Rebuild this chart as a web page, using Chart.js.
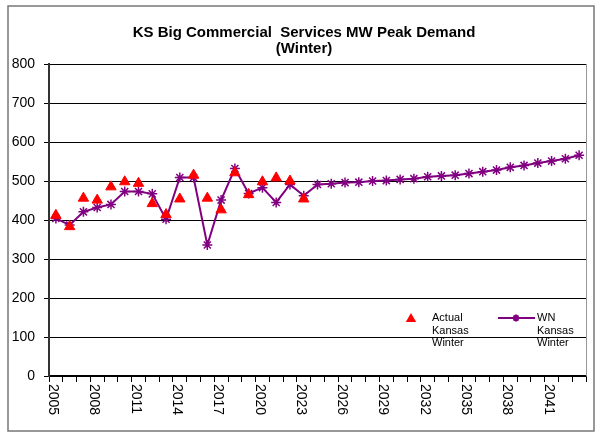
<!DOCTYPE html>
<html>
<head>
<meta charset="utf-8">
<title>KS Big Commercial Services MW Peak Demand (Winter)</title>
<script src="https://cdn.jsdelivr.net/npm/chart.js@4.4.1/dist/chart.umd.min.js"></script>
<style>
  body { margin: 0; background: #fff; }
  #chart { display: block; }
</style>
</head>
<body>
<canvas id="chart" width="597" height="434"></canvas>
<script>
// Data
const years = [];
for (let y = 2005; y <= 2043; y++) years.push(String(y));

const actualWinter = [412, 383, 456, 451, 485, 498, 494, 442, 414, 454,
  515, 456, 426, 521, 465, 498, 508, 500, 454];

const wnWinter = [404, 387, 421, 432, 440, 473, 473, 467, 402, 509,
  509, 336, 451, 532, 468, 483, 445, 491, 462, 491,
  493, 496, 497, 500, 501, 504, 506, 511, 513, 515,
  519, 524, 528, 535, 540, 546, 551, 557, 566];

const xLabels = ['2005', '2008', '2011', '2014', '2017', '2020', '2023',
  '2026', '2029', '2032', '2035', '2038', '2041'];

const yTicks = [0, 100, 200, 300, 400, 500, 600, 700, 800];

const titleLines = ['KS Big Commercial  Services MW Peak Demand', '(Winter)'];

const FONT = "'Liberation Sans', Arial, sans-serif";
const PURPLE = '#800080';
const RED = '#ff0000';

// pad the actual series so it lines up with the categories
const actualData = years.map((y, i) => (i < actualWinter.length ? actualWinter[i] : null));

// Title, frame, x labels (rotated clockwise) and the in-plot legend
const decorPlugin = {
  id: 'decor',
  beforeDraw(chart) {
    const ctx = chart.ctx;
    ctx.save();
    ctx.fillStyle = '#fff';
    ctx.fillRect(0, 0, chart.width, chart.height);
    ctx.restore();
  },
  afterDraw(chart) {
    const ctx = chart.ctx;
    const area = chart.chartArea;
    const xScale = chart.scales.x;
    ctx.save();

    // title (a bit right of centre, like the original)
    ctx.fillStyle = '#000';
    ctx.font = 'bold 15px ' + FONT;
    ctx.textAlign = 'center';
    ctx.textBaseline = 'middle';
    ctx.fillText(titleLines[0], 304, 33);
    ctx.fillText(titleLines[1], 304, 49);

    // plot area border (right side is grey in the original)
    ctx.strokeStyle = '#999';
    ctx.lineWidth = 1;
    ctx.beginPath();
    ctx.moveTo(area.right + 0.5, area.top);
    ctx.lineTo(area.right + 0.5, area.bottom);
    ctx.stroke();

    // outer chart border
    ctx.strokeStyle = '#777';
    ctx.lineWidth = 1.5;
    ctx.strokeRect(8, 6, 586, 425);

    // x labels, reading top to bottom
    ctx.fillStyle = '#000';
    ctx.font = '14px ' + FONT;
    ctx.textAlign = 'left';
    ctx.textBaseline = 'middle';
    xLabels.forEach(lbl => {
      const x = xScale.getPixelForValue(years.indexOf(lbl)) - 3;
      ctx.save();
      ctx.translate(x, area.bottom + 8);
      ctx.rotate(Math.PI / 2);
      ctx.fillText(lbl, 0, 0);
      ctx.restore();
    });

    // legend
    ctx.font = '11px ' + FONT;
    ctx.fillStyle = RED;
    ctx.strokeStyle = RED;
    Chart.helpers.drawPoint(ctx, { pointStyle: 'triangle', radius: 4.5, borderWidth: 1, rotation: 0 }, 411, 319);
    ctx.fillStyle = '#000';
    ['Actual', 'Kansas', 'Winter'].forEach((t, i) => ctx.fillText(t, 432, 318 + i * 12.7));

    ctx.strokeStyle = PURPLE;
    ctx.lineWidth = 2;
    ctx.beginPath();
    ctx.moveTo(498, 318);
    ctx.lineTo(535, 318);
    ctx.stroke();
    Chart.helpers.drawPoint(ctx, { pointStyle: 'star', radius: 3.5, borderWidth: 1.5, rotation: 0 }, 516, 318);
    ['WN', 'Kansas', 'Winter'].forEach((t, i) => ctx.fillText(t, 537, 318 + i * 12.7));

    ctx.restore();
  }
};

const ctx = document.getElementById('chart').getContext('2d');

const myChart = new Chart(ctx, {
  type: 'line',
  data: {
    labels: years,
    datasets: [
      {
        label: 'Actual Kansas Winter',
        data: actualData,
        showLine: false,
        pointStyle: 'triangle',
        pointRadius: 6,
        pointBackgroundColor: RED,
        pointBorderColor: RED,
        pointBorderWidth: 1,
        borderColor: RED,
        backgroundColor: RED
      },
      {
        label: 'WN Kansas Winter',
        data: wnWinter,
        borderColor: PURPLE,
        backgroundColor: PURPLE,
        borderWidth: 2,
        tension: 0,
        pointStyle: 'star',
        pointRadius: 5,
        pointBorderColor: PURPLE,
        pointBorderWidth: 1.5
      }
    ]
  },
  options: {
    responsive: false,
    animation: false,
    layout: { padding: { left: 0, right: 11, top: 64, bottom: 0 } },
    plugins: {
      legend: { display: false },
      tooltip: { enabled: false },
      title: { display: false }
    },
    scales: {
      x: {
        type: 'category',
        offset: true,
        grid: {
          display: true,
          offset: true,
          drawOnChartArea: false,
          drawTicks: true,
          tickLength: 6,
          color: '#000'
        },
        border: { display: true, color: '#000', width: 1.5 },
        ticks: { display: false, autoSkip: false },
        afterFit: scale => { scale.height = 58; }
      },
      y: {
        min: 0,
        max: 800,
        afterBuildTicks: scale => { scale.ticks = yTicks.map(v => ({ value: v })); },
        grid: { color: '#000', lineWidth: 1, tickLength: 5 },
        border: { display: true, color: '#333', width: 2 },
        ticks: {
          color: '#000',
          padding: 9,
          font: { family: FONT, size: 14 }
        },
        afterFit: scale => { scale.width = 49; }
      }
    }
  },
  plugins: [decorPlugin]
});
</script>
</body>
</html>
